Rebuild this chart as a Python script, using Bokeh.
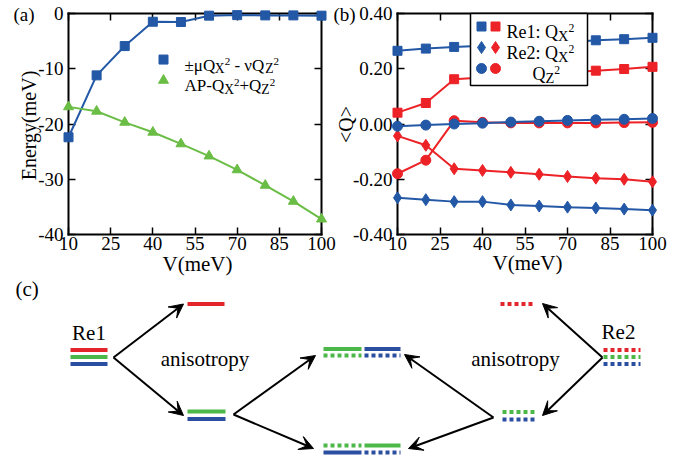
import math
from bokeh.plotting import figure
from bokeh.models import (Range1d, LinearAxis, FixedTicker, ColumnDataSource,
                          Arrow, VeeHead)
from bokeh.layouts import column, row
from bokeh.embed import file_html
from bokeh.resources import INLINE
from bokeh.core.properties import value

# ---------------- data ----------------
V = [10, 20, 30, 40, 50, 60, 70, 80, 90, 100]
energy_fm = [-22.4, -11.2, -5.9, -1.5, -1.55, -0.4, -0.3, -0.35, -0.35, -0.4]
energy_ap = [-16.9, -17.7, -19.7, -21.5, -23.6, -25.8, -28.3, -31.1, -34.0, -37.2]

q_re1_x_blue = [0.265, 0.273, 0.279, 0.283, 0.287, 0.291, 0.295, 0.303, 0.307, 0.312]
q_re1_x_red = [0.041, 0.076, 0.162, 0.168, 0.175, 0.181, 0.187, 0.193, 0.199, 0.207]
q_re2_x_red = [-0.043, -0.077, -0.162, -0.168, -0.175, -0.182, -0.190, -0.196, -0.200, -0.209]
q_re2_x_blue = [-0.267, -0.274, -0.281, -0.281, -0.293, -0.297, -0.301, -0.304, -0.308, -0.312]
q_z_blue = [-0.008, -0.004, 0.000, 0.003, 0.007, 0.010, 0.013, 0.015, 0.017, 0.020]
q_z_red = [-0.180, -0.131, 0.012, 0.006, 0.004, 0.004, 0.004, 0.004, 0.005, 0.006]

x_ticks = [10, 25, 40, 55, 70, 85, 100]
x_tick_labels = ["10", "25", "40", "55", "70", "85", "100"]
a_y_ticks = [0, -10, -20, -30, -40]
a_y_tick_labels = ["0", "-10", "-20", "-30", "-40"]
b_y_ticks = [0.4, 0.2, 0, -0.2, -0.4]
b_y_tick_labels = ["0.40", "0.20", "0.00", "-0.20", "-0.40"]

# schematic (c): energy levels (x_start, x_end, level, colour-key)
levels_solid = [
    (70, 107, 349.5, "r"), (70, 107, 356.5, "g"), (70, 107, 363.5, "b"),
    (187, 224, 303.5, "r"),
    (187, 225, 411.0, "g"), (187, 225, 418.5, "b"),
    (323, 361, 348.5, "g"), (364, 400, 348.5, "b"),
    (364, 400, 445.0, "g"), (323, 361, 452.0, "b"),
]
levels_dotted = [
    (323, 361, 355.0, "g"), (364, 400, 355.0, "b"),
    (323, 361, 445.0, "g"), (364, 400, 452.0, "b"),
    (500, 535, 303.5, "r"),
    (603, 640, 349.5, "r"), (603, 640, 356.5, "g"), (603, 640, 363.5, "b"),
    (502, 537, 411.5, "g"), (502, 537, 419.0, "b"),
]
arrows = [
    (113, 357, 183, 303.5), (113, 357, 183, 415),
    (233, 414, 315, 355), (233, 414, 313, 448),
    (602, 357, 542, 303), (602, 357, 542, 415),
    (493, 417, 404, 354), (493, 417, 408, 448),
]
diagram_texts = [("(c)", 15, 288.5, "left"), ("Re1", 88.5, 332, "center"),
                 ("Re2", 618, 331, "center"), ("anisotropy", 204.5, 358, "center"),
                 ("anisotropy", 515, 358, "center")]

# panel titles / axis titles: (text, x, y, align, angle, size)
panel_texts = [("(a)", 13, 13.5, "left", 0, 19), ("(b)", 333, 13.5, "left", 0, 19),
               ("Energy(meV)", 28, 125, "center", math.pi / 2, 20),
               ("<Q>", 345, 124, "center", math.pi / 2, 20),
               ("V(meV)", 197, 263, "center", 0, 21), ("V(meV)", 527, 262, "center", 0, 21)]

# ---------------- style ----------------
FONT = "Liberation Serif"
BLUE = "#2358a6"
RED = "#ec2227"
GREEN = "#6abd45"
DCOL = {"r": "#e2262b", "g": "#4cb848", "b": "#2b4fa0"}
NB = "\u00a0"

CW = {' ': 0.25, NB: 0.25, '±': 0.564, 'μ': 0.5, 'ν': 0.5, 'Q': 0.722, 'X': 0.722, 'Z': 0.611,
      '2': 0.5, '-': 0.333, '+': 0.564, 'A': 0.722, 'P': 0.556, 'R': 0.667, 'e': 0.444,
      '1': 0.5, ':': 0.278}


def tw(s):
    return sum(CW.get(c, 0.5) for c in s)


def rich(p, x, y, pieces, fs, dx0=0.0):
    xs, ys, ts, xo, yo, fss = [], [], [], [], [], []
    cur = dx0
    for t, sc, sh in pieces:
        size = fs * sc
        xs.append(x); ys.append(y); ts.append(t)
        xo.append(cur); yo.append(0.33 * fs + sh * fs)
        fss.append("%.1fpx" % size)
        cur += tw(t) * size
    src = ColumnDataSource(dict(x=xs, y=ys, text=ts, xo=xo, yo=yo, fs=fss))
    p.text(x="x", y="y", text="text", x_offset="xo", y_offset="yo", text_font_size="fs",
           text_font=value(FONT), text_baseline="alphabetic", text_align="left",
           text_color="black", source=src, level="overlay")


def label_axis(ax, ticks, labels, standoff):
    ax.ticker = FixedTicker(ticks=ticks, minor_ticks=[])
    ax.major_label_overrides = {t: l for t, l in zip(ticks, labels)}
    ax.axis_line_color = None
    ax.major_tick_line_color = None
    ax.minor_tick_line_color = None
    ax.major_tick_in = 0
    ax.major_tick_out = 0
    ax.minor_tick_in = 0
    ax.minor_tick_out = 0
    ax.major_label_text_font = FONT
    ax.major_label_text_font_size = "19px"
    ax.major_label_text_color = "black"
    ax.major_label_standoff = standoff


def frame_axis(ticks, loc, bounds):
    ax = LinearAxis(ticker=FixedTicker(ticks=ticks, minor_ticks=[]))
    ax.major_label_overrides = {t: "" for t in ticks}
    ax.fixed_location = loc
    ax.bounds = bounds
    ax.axis_line_width = 2
    ax.axis_line_color = "black"
    ax.axis_line_cap = "square"
    ax.major_tick_in = 7
    ax.major_tick_out = 0
    ax.minor_tick_in = 0
    ax.minor_tick_out = 0
    ax.major_tick_line_width = 1.5
    ax.major_tick_line_color = "black"
    ax.major_label_text_font_size = "1px"
    ax.major_label_standoff = 0
    return ax


PAD = 5
TOP_H = 278


def make_panel(fig_left, fig_w, vis, xlim, ylim, yticks, ylabels):
    L, R, T, B = vis
    pxx = (R - L) / (xlim[1] - xlim[0])
    pxy = (B - T) / (ylim[1] - ylim[0])
    fx = lambda px: xlim[0] + (px - L) / pxx
    fy = lambda py: ylim[1] - (py - T) / pxy
    p = figure(width=fig_w, height=TOP_H,
               x_range=Range1d(fx(L - PAD), fx(R + PAD)),
               y_range=Range1d(fy(B + PAD), fy(T - PAD)),
               output_backend="svg", toolbar_location=None,
               min_border_left=L - PAD - fig_left,
               min_border_right=fig_left + fig_w - (R + PAD),
               min_border_top=T - PAD,
               min_border_bottom=TOP_H - (B + PAD))
    p.outline_line_color = None
    p.grid.visible = False
    p.background_fill_color = "white"
    p.border_fill_color = "white"
    label_axis(p.below[0], x_ticks, x_tick_labels, -3)
    label_axis(p.left[0], yticks, ylabels, 0)
    p.add_layout(frame_axis(x_ticks, ylim[0], tuple(xlim)), "below")
    p.add_layout(frame_axis(x_ticks, ylim[1], tuple(xlim)), "above")
    p.add_layout(frame_axis(yticks, xlim[0], tuple(ylim)), "left")
    p.add_layout(frame_axis(yticks, xlim[1], tuple(ylim)), "right")
    return p, fx, fy


# ---------------- panel (a) ----------------
pA, ax_, ay_ = make_panel(0, 336, (68, 321, 13, 236), (10, 100), (-40, 0),
                          a_y_ticks, a_y_tick_labels)

pA.line(V, energy_fm, line_color=BLUE, line_width=2, level="overlay")
pA.scatter(V, energy_fm, marker="square", size=9, color=BLUE, level="overlay")
pA.line(V, energy_ap, line_color=GREEN, line_width=2, level="overlay")
pA.scatter(V, energy_ap, marker="triangle", size=10, color=GREEN, level="overlay")

leg_ax = ax_(163)
pA.scatter([leg_ax], [ay_(59.5)], marker="square", size=9, color=BLUE, level="overlay")
pA.scatter([leg_ax], [ay_(80.5)], marker="triangle", size=10, color=GREEN, level="overlay")
rich(pA, leg_ax, ay_(59.5), [("±μQ", 1, 0), ("X", 0.8, 0.22), ("2", 0.65, -0.22),
                               (NB + "-" + NB + "νQ", 1, 0), ("Z", 0.8, 0.22), ("2", 0.65, -0.22)], 17, 21)
rich(pA, leg_ax, ay_(80.5), [("AP-Q", 1, 0), ("X", 0.8, 0.22), ("2", 0.65, -0.22),
                               ("+Q", 1, 0), ("Z", 0.8, 0.22), ("2", 0.65, -0.22)], 17, 21)

# ---------------- panel (b) ----------------
pB, bx_, by_ = make_panel(336, 356, (397, 652, 13, 234), (10, 100), (-0.4, 0.4),
                          b_y_ticks, b_y_tick_labels)

series_b = [
    (q_re2_x_blue, BLUE, "diamond", 12),
    (q_re2_x_red, RED, "diamond", 12),
    (q_z_red, RED, "circle", 10),
    (q_z_blue, BLUE, "circle", 10),
    (q_re1_x_red, RED, "square", 9),
    (q_re1_x_blue, BLUE, "square", 9),
]
for ys, col, mk, sz in series_b:
    pB.line(V, ys, line_color=col, line_width=2, level="overlay")
    pB.scatter(V, ys, marker=mk, size=sz, color=col, level="overlay")

pB.quad(left=[bx_(470)], right=[bx_(587)], bottom=[by_(85)], top=[0.4],
        fill_color="white", line_color="black", line_width=1.5, level="overlay")
rows_b = [(by_(26), "square", 9, [("Re1: Q", 1, 0), ("X", 0.8, 0.22), ("2", 0.65, -0.22)], 0),
          (by_(47), "diamond", 12, [("Re2: Q", 1, 0), ("X", 0.8, 0.22), ("2", 0.65, -0.22)], 0),
          (by_(68), "circle", 10, [("Q", 1, 0), ("Z", 0.8, 0.22), ("2", 0.65, -0.22)], 26)]
for yy, mk, sz, pieces, extra in rows_b:
    pB.scatter([bx_(481)], [yy], marker=mk, size=sz, color=BLUE, level="overlay")
    pB.scatter([bx_(495)], [yy], marker=mk, size=sz, color=RED, level="overlay")
    rich(pB, bx_(495), yy, pieces, 18, 11 + extra)

# ---------------- overlay with panel / axis titles ----------------
pO = figure(width=692, height=TOP_H, x_range=Range1d(0, 692), y_range=Range1d(TOP_H, 0),
            x_axis_type=None, y_axis_type=None, output_backend="svg", toolbar_location=None,
            min_border=0, margin=(-TOP_H, 0, 0, 0))
pO.outline_line_color = None
pO.grid.visible = False
pO.background_fill_color = None
pO.border_fill_color = None
for t, x, y, al, ang, fs in panel_texts:
    pO.text(x=[x], y=[y], text=[t], angle=ang, text_font=value(FONT),
            text_font_size="%dpx" % fs,
            text_align=al, text_baseline="middle", text_color="black")

# ---------------- panel (c) ----------------
pC = figure(width=692, height=182, x_range=Range1d(0, 692), y_range=Range1d(460, 278),
            x_axis_type=None, y_axis_type=None, output_backend="svg", toolbar_location=None,
            min_border=0)
pC.outline_line_color = None
pC.grid.visible = False

pC.segment(x0=[l[0] for l in levels_solid], x1=[l[1] for l in levels_solid],
           y0=[l[2] for l in levels_solid], y1=[l[2] for l in levels_solid],
           line_color=[DCOL[l[3]] for l in levels_solid], line_width=4, line_cap="butt")
pC.segment(x0=[l[0] for l in levels_dotted], x1=[l[1] for l in levels_dotted],
           y0=[l[2] for l in levels_dotted], y1=[l[2] for l in levels_dotted],
           line_color=[DCOL[l[3]] for l in levels_dotted], line_width=4, line_cap="butt",
           line_dash="4 3")
for x0, y0, x1, y1 in arrows:
    pC.add_layout(Arrow(end=VeeHead(size=14, fill_color="black", line_color="black", line_width=1),
                        x_start=x0, y_start=y0, x_end=x1, y_end=y1,
                        line_color="black", line_width=2))
for t, x, y, al in diagram_texts:
    pC.text(x=[x], y=[y], text=[t], text_font=value(FONT), text_font_size="21px",
            text_align=al, text_baseline="middle", text_color="black")

layout = column(row(pA, pB), pO, pC)
open("out.html", "w").write(file_html(layout, INLINE))
